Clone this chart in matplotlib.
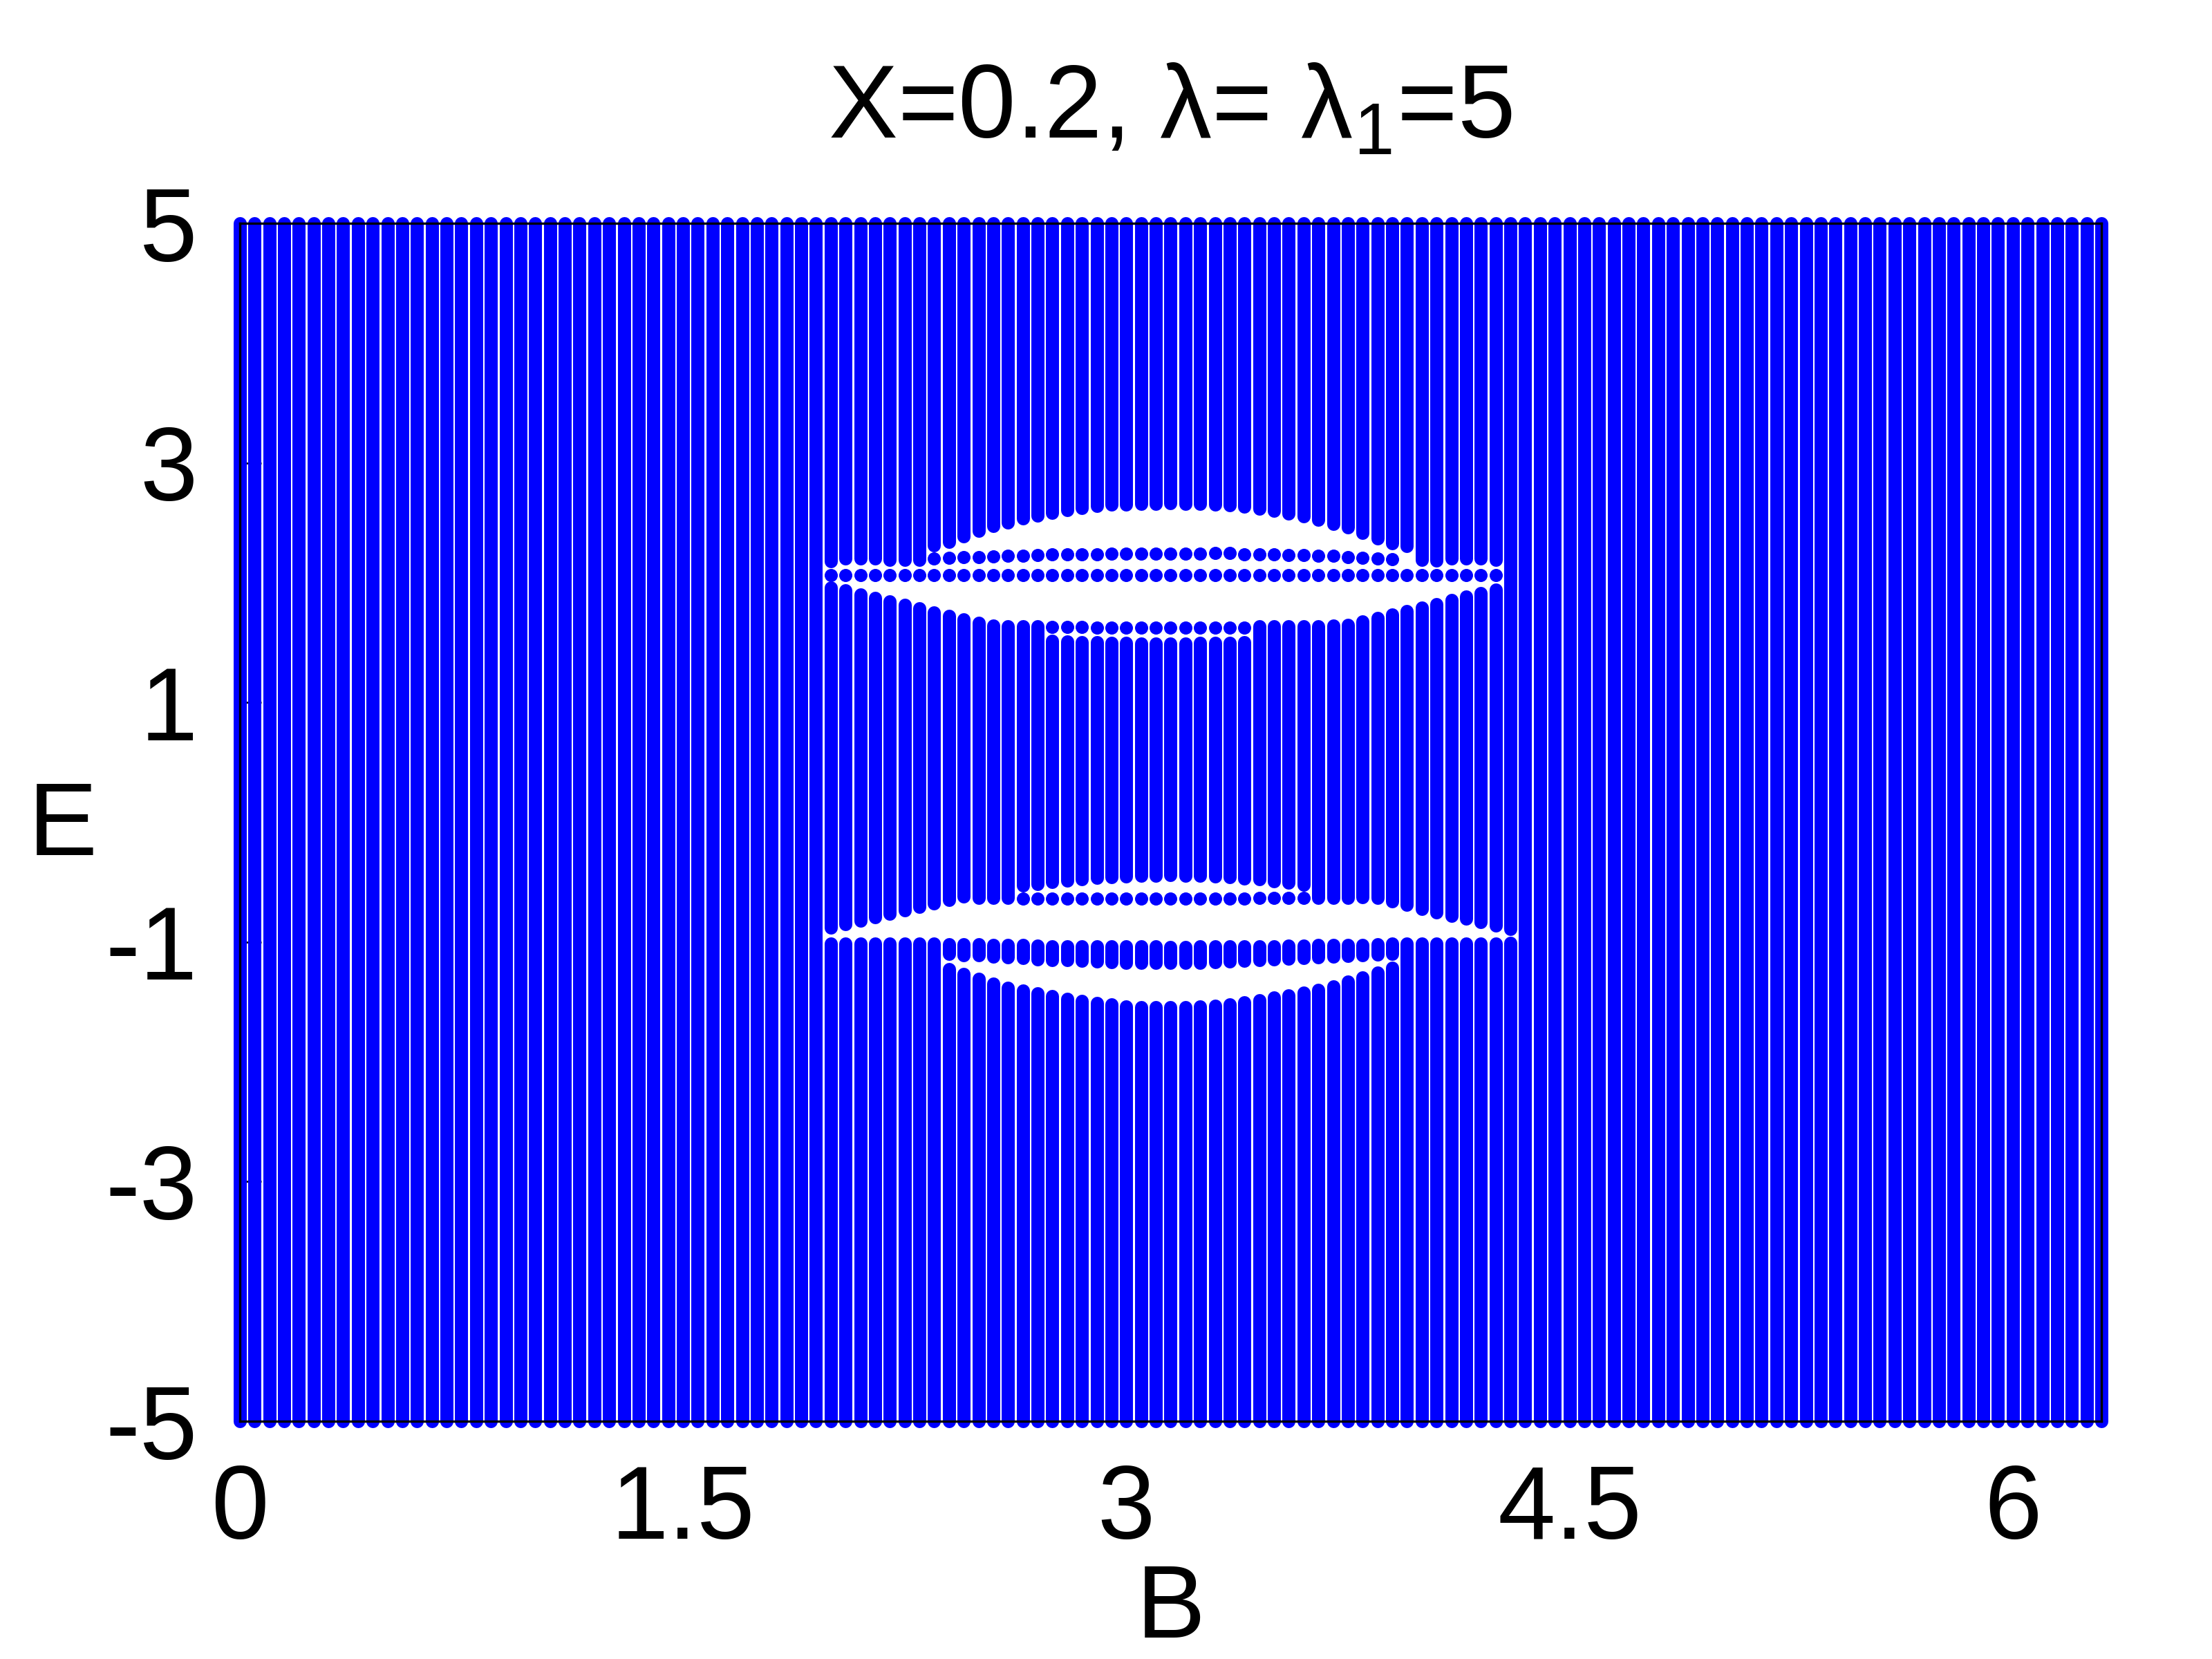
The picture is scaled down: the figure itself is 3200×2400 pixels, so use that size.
import numpy as np
import matplotlib
matplotlib.use("Agg")
import matplotlib.pyplot as plt

plt.rcParams["font.family"] = ["Liberation Sans", "DejaVu Sans"]
plt.rcParams["mathtext.fontset"] = "custom"
plt.rcParams["mathtext.rm"] = "Liberation Sans"
plt.rcParams["mathtext.default"] = "regular"

nan = np.nan

# B sampling of the spectrum (step 0.05 from 0 to 6.3)
B_cols = np.linspace(0.0, 6.3, 127)
E_MIN, E_MAX = -5.0, 5.0

# columns with gaps: B = 2.00 ... 4.30
gap_start = 40
gap_B = B_cols[gap_start:gap_start + 47]

# --- gap near E = -1 ---
# bottom end of the band above the gap
lg_upper_edge = [-0.880, -0.852, -0.823, -0.794, -0.765, -0.736, -0.708, -0.679,
                 -0.648, -0.620, -0.629, -0.629, -0.629, -0.525, -0.516, -0.500,
                 -0.487, -0.477, -0.466, -0.456, -0.452, -0.446, -0.446, -0.443,
                 -0.446, -0.446, -0.452, -0.458, -0.471, -0.477, -0.491, -0.504,
                 -0.519, -0.629, -0.629, -0.629, -0.625, -0.629, -0.662, -0.692,
                 -0.721, -0.750, -0.779, -0.807, -0.836, -0.865, -0.894]
# single level just below that band
lg_dot = [nan] * 13 + [-0.637] * 16 + [-0.631] * 4 + [nan] * 14
# pair of close levels inside the gap
lg_pair_hi = [nan] * 8 + [-1.019, -1.019, -1.019, -1.025, -1.025, -1.025, -1.028,
                          -1.034, -1.034, -1.038, -1.038, -1.038, -1.038, -1.038,
                          -1.038, -1.044, -1.040, -1.038, -1.038, -1.038, -1.034,
                          -1.034, -1.034, -1.030, -1.030, -1.025, -1.025, -1.021,
                          -1.021, -1.019, -1.015] + [nan] * 8
lg_pair_lo = [nan] * 8 + [-1.101, -1.111, -1.111, -1.121, -1.130, -1.136, -1.144,
                          -1.149, -1.153, -1.159, -1.165, -1.169, -1.173, -1.173,
                          -1.173, -1.173, -1.173, -1.173, -1.169, -1.165, -1.159,
                          -1.153, -1.146, -1.140, -1.136, -1.130, -1.124, -1.117,
                          -1.111, -1.107, -1.096] + [nan] * 8
# top of the band below the gap
lg_band_top = [-1.015] * 8 + [-1.228, -1.267, -1.309, -1.347, -1.382, -1.405, -1.428,
                              -1.453, -1.476, -1.491, -1.511, -1.522, -1.537, -1.543,
                              -1.543, -1.543, -1.543, -1.537, -1.532, -1.520, -1.503,
                              -1.486, -1.463, -1.447, -1.424, -1.399, -1.370, -1.332,
                              -1.295, -1.257, -1.217] + [-1.015, -1.015, -1.015,
                                                         -1.015, -1.011, -1.011,
                                                         -1.011, -1.005]

# --- gap near E = 2 ---
ug_band_top = [1.957, 1.934, 1.903, 1.874, 1.845, 1.816, 1.788, 1.753, 1.724, 1.695,
               1.667, 1.643, 1.638, 1.638, 1.638, 1.515, 1.509, 1.505, 1.501, 1.497,
               1.497, 1.494, 1.492, 1.492, 1.492, 1.495, 1.495, 1.495, 1.501, 1.638,
               1.638, 1.638, 1.638, 1.638, 1.643, 1.649, 1.676, 1.705, 1.736, 1.764,
               1.793, 1.822, 1.857, 1.885, 1.914, 1.943, nan]
ug_dot = [nan] * 15 + [1.630, 1.630, 1.628] + [1.624] * 11 + [nan] * 18
ug_row2 = [2.066] * 46 + [nan]
ug_row1 = [nan] * 7 + [2.202, 2.206, 2.212, 2.216, 2.220, 2.224, 2.227, 2.231, 2.235,
                       2.235, 2.239, 2.239, 2.241, 2.241, 2.241, 2.241, 2.241, 2.241,
                       2.241, 2.245, 2.245, 2.239, 2.239, 2.235, 2.231, 2.231, 2.225,
                       2.222, 2.216, 2.208, 2.202, 2.197] + [nan] * 8
ug_upper_edge = [2.179, 2.199, 2.199, 2.199, 2.189, 2.189, 2.193, 2.310, 2.343, 2.385,
                 2.433, 2.473, 2.502, 2.537, 2.560, 2.585, 2.606, 2.625, 2.640, 2.650,
                 2.650, 2.656, 2.656, 2.665, 2.656, 2.656, 2.650, 2.644, 2.635, 2.617,
                 2.598, 2.577, 2.554, 2.525, 2.491, 2.462, 2.416, 2.370, 2.329, 2.304,
                 2.189, 2.187, 2.199, 2.199, 2.199, 2.189, nan]

x_ticks = [0, 1.5, 3, 4.5, 6]
x_tick_labels = ["0", "1.5", "3", "4.5", "6"]
y_ticks = [5, 3, 1, -1, -3, -5]
y_tick_labels = ["5", "3", "1", "-1", "-3", "-5"]

# build the runs of overlapping points for every column
seg_x, seg_lo, seg_hi = [], [], []
dot_x, dot_e = [], []


def add_seg(b, lo, hi):
    seg_x.append(b)
    seg_lo.append(lo)
    seg_hi.append(hi)


def add_dot(b, e):
    if not np.isnan(e):
        dot_x.append(b)
        dot_e.append(e)


for i, b in enumerate(B_cols):
    j = i - gap_start
    lo = E_MIN
    if 0 <= j < len(gap_B):
        add_seg(b, lo, lg_band_top[j])
        if not np.isnan(lg_pair_hi[j]):
            add_seg(b, lg_pair_lo[j], lg_pair_hi[j])
        add_dot(b, lg_dot[j])
        lo = lg_upper_edge[j]
        if not np.isnan(ug_band_top[j]):
            add_seg(b, lo, ug_band_top[j])
            add_dot(b, ug_dot[j])
            add_dot(b, ug_row2[j])
            add_dot(b, ug_row1[j])
            lo = ug_upper_edge[j]
    add_seg(b, lo, E_MAX)

fig = plt.figure(figsize=(8, 6), dpi=400)
ax = fig.add_axes([0.1084, 0.1433, 0.8416, 0.7221])

pt_w = 19 * 72 / 400  # point diameter in points
ax.vlines(seg_x, seg_lo, seg_hi, colors="#0000ff", linewidth=pt_w,
          capstyle="round", clip_on=False, zorder=2)
ax.scatter(dot_x, dot_e, s=pt_w ** 2, color="#0000ff", linewidths=0,
           clip_on=False, zorder=2)

ax.set_xlim(0, 6.3)
ax.set_ylim(-5, 5)
ax.set_xticks(x_ticks)
ax.set_xticklabels(x_tick_labels)
ax.set_yticks(y_ticks)
ax.set_yticklabels(y_tick_labels)
ax.tick_params(direction="in", length=5.5, width=0.5, labelsize=27, pad=11)
ax.set_axisbelow(True)
for sp in ax.spines.values():
    sp.set_linewidth(0.6)
    sp.set_zorder(3)

ax.set_xlabel("B", fontsize=27, va="center")
ax.xaxis.set_label_coords(0.5, -0.158)
ax.set_ylabel("E", fontsize=27, rotation=0, va="center", ha="center")
ax.yaxis.set_label_coords(-0.095, 0.495)

fig.text(0.529, 0.917, "X=0.2, λ= λ$_1$=5", ha="center", va="baseline", fontsize=27)

plt.savefig("out.png", dpi=400)
